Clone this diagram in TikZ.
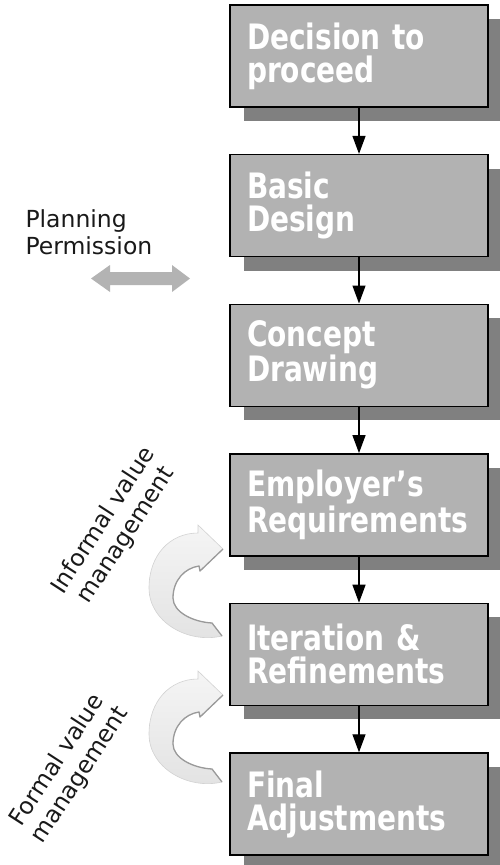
\documentclass[tikz,border=0pt]{standalone}
\usepackage{fontspec}
\setmainfont{DejaVu Sans}
\newfontfamily\stagefont[FakeStretch=0.8]{DejaVu Sans}
\usetikzlibrary{arrows.meta,shadows}

\definecolor{boxgray}{HTML}{B2B2B2}
\definecolor{shadowgray}{HTML}{808080}
\definecolor{permitgray}{HTML}{B3B3B3}
\definecolor{loophi}{HTML}{F5F5F5}
\definecolor{looplo}{HTML}{E2E2E2}
\definecolor{loopedge}{HTML}{D2D2D2}
\definecolor{loopshade}{HTML}{9A9A9A}

\tikzset{
  stage/.style={draw=black, line width=1.4pt, fill=boxgray, text=white,
    minimum width=258pt, minimum height=102pt, text width=224pt,
    inner xsep=17pt, inner ysep=0pt, align=left,
    font=\stagefont\bfseries\fontsize{35}{33}\selectfont,
    drop shadow={shadow xshift=14pt, shadow yshift=-14pt, fill=shadowgray, opacity=1}},
  flow/.style={line width=1.3pt, -{Triangle[width=13pt,length=18pt]}},
  note/.style={font=\fontsize{23.5}{27}\selectfont, align=center, text=black!90},
  loop arrow/.pic={
    \path[top color=loophi, bottom color=looplo, draw=loopedge, line width=0.6pt]
      (-2,-57) -- (-2,-65) -- (23,-41) -- (0,-19) -- (-1,-24)
      .. controls (-15,-22) and (-27,-10) .. (-27,8)
      .. controls (-27,22) and (-7,32) .. (12,33)
      -- (22,46)
      .. controls (-12,54) and (-51,32) .. (-51,-2)
      .. controls (-51,-35) and (-30,-57) .. (-2,-57) -- cycle;
    \draw[loopshade, line width=1.3pt, line join=round]
      (23,-41) -- (0,-19) -- (-1,-24)
      .. controls (-15,-22) and (-27,-10) .. (-27,8)
      .. controls (-27,22) and (-7,32) .. (12,33) -- (22,46);
  }
}

\begin{document}
\begin{tikzpicture}[x=1pt,y=-1pt]
  \useasboundingbox (0,0) rectangle (500,865);

  \node[stage] (decide)   at (359,56)    {Decision to\\proceed};
  \node[stage] (basic)    at (359,205.6) {Basic\\Design};
  \node[stage] (concept)  at (359,355.2) {Concept\\Drawing};
  \node[stage] (employer) at (359,504.8) {Employer’s\\Requirements};
  \node[stage] (iterate)  at (359,654.4) {Iteration \&\\Refinements};
  \node[stage] (final)    at (359,804)   {Final\\Adjustments};

  \draw[flow] (decide) -- (basic);
  \draw[flow] (basic) -- (concept);
  \draw[flow] (concept) -- (employer);
  \draw[flow] (employer) -- (iterate);
  \draw[flow] (iterate) -- (final);

  \node[note, align=left, anchor=west] (permit) at (22,232) {Planning\\Permission};
  \fill[permitgray] (91,278.5) -- (110,265) -- (110,272) -- (172,272) -- (172,265)
    -- (190,278.5) -- (172,292) -- (172,285) -- (110,285) -- (110,292) -- cycle;

  \node[note, rotate=57] (informal) at (115,528) {Informal value\\management};
  \node[note, rotate=57] (formal)   at (69,768)  {Formal value\\management};

  \pic at (200,590) {loop arrow};
  \pic at (200,736) {loop arrow};
\end{tikzpicture}
\end{document}
